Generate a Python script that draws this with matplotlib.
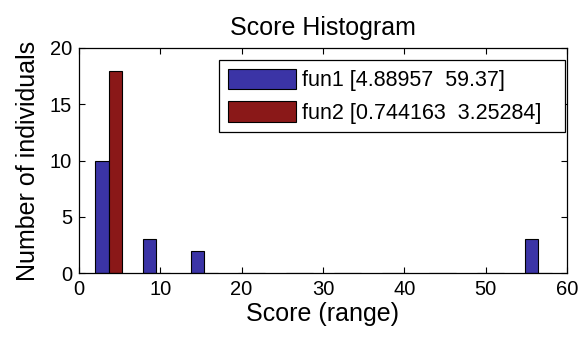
import matplotlib
matplotlib.use("Agg")
import matplotlib.pyplot as plt
import numpy as np

plt.rcParams['font.family'] = ['Liberation Sans', 'DejaVu Sans']

bin_centers = [3.675, 9.54, 15.40, 21.26, 27.13, 32.99, 38.85, 44.72, 50.58, 56.44]
fun1_counts = [10, 3, 2, 0, 0, 0, 0, 0, 0, 3]
fun2_counts = [18, 0, 0, 0, 0, 0, 0, 0, 0, 0]
labels = ['fun1 [4.88957  59.37]', 'fun2 [0.744163  3.25284]']
colors = ['#3b34a6', '#8a1818']

fig = plt.figure(figsize=(5.84, 3.38), dpi=100)
ax = fig.add_axes([0.135, 0.192, 0.836, 0.666])

w = 1.65
x = np.array(bin_centers)
ax.bar(x - w / 2, fun1_counts, width=w, color=colors[0], edgecolor='black', linewidth=0.8, label=labels[0])
ax.bar(x + w / 2, fun2_counts, width=w, color=colors[1], edgecolor='black', linewidth=0.8, label=labels[1])

ax.set_xlim(0, 60)
ax.set_ylim(0, 20)
ax.set_xticks(range(0, 61, 10))
ax.set_yticks(range(0, 21, 5))
ax.tick_params(direction='in', top=True, right=True, labelsize=14.5, length=4, pad=5)
for s in ax.spines.values():
    s.set_linewidth(0.9)

ax.set_title('Score Histogram', fontsize=18, pad=9)
ax.set_xlabel('Score (range)', fontsize=18, labelpad=2)
ax.set_ylabel('Number of individuals', fontsize=18, labelpad=7)

leg = ax.legend(loc='upper left', bbox_to_anchor=(0.287, 0.0, 0.709, 0.946), mode='expand',
                fontsize=15.5, handlelength=3.2, handleheight=1.1, handletextpad=0.25,
                borderpad=0.4, labelspacing=0.45, fancybox=False, framealpha=1,
                edgecolor='black', borderaxespad=0)
leg.get_frame().set_linewidth(0.9)

fig.savefig('out.png', dpi=100)
